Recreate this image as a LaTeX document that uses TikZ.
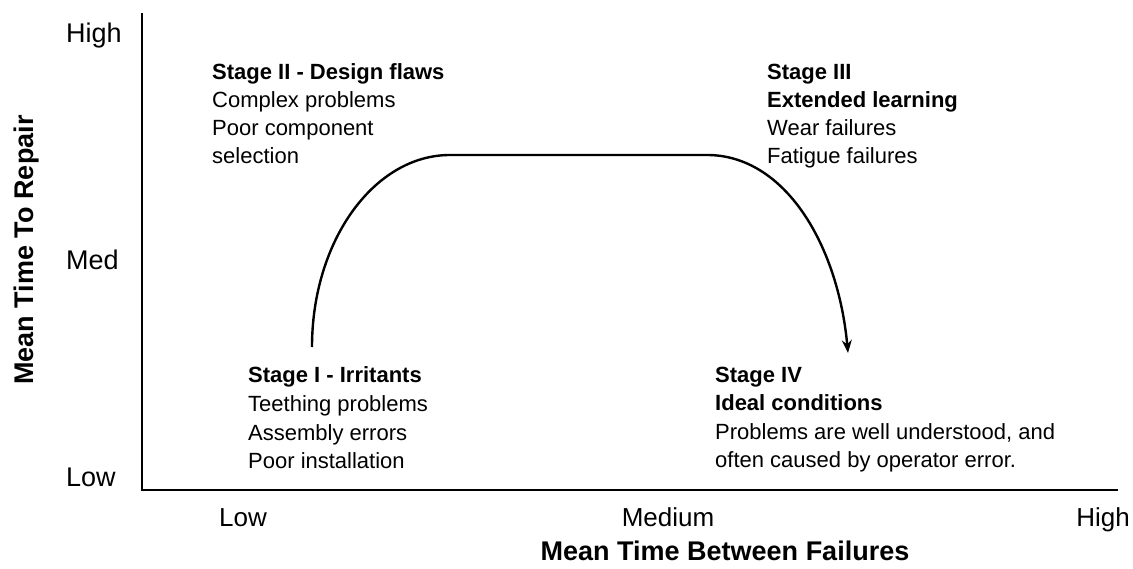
\documentclass[tikz,border=0pt]{standalone}
\usepackage{fontspec}
\setmainfont{Liberation Sans}
\usetikzlibrary{arrows.meta}
\begin{document}
\begin{tikzpicture}[x=1pt,y=-1pt,
  body/.style={font=\fontsize{22}{26}\selectfont, anchor=base west, inner sep=0pt},
  head/.style={font=\fontsize{22}{26}\selectfont\bfseries, anchor=base west, inner sep=0pt},
  axl/.style={font=\fontsize{26}{30}\selectfont, inner sep=0pt},
  yaxl/.style={font=\fontsize{27}{30}\selectfont, inner sep=0pt, anchor=base west},
  ttl/.style={font=\fontsize{27}{30}\selectfont\bfseries, inner sep=0pt},
  axisline/.style={line width=1.8pt, black},
  curveline/.style={line width=2.4pt, black, -{Stealth[length=13pt,width=10pt]}}]
\useasboundingbox (0,0) rectangle (1133,569);
% axes
\coordinate (ytop) at (142,13);
\coordinate (o) at (142,490);
\coordinate (xend) at (1118,490);
\draw[axisline] (ytop) -- (o) -- (xend);
% y labels
\node[yaxl] (yhigh) at (66,43) {High};
\node[yaxl] (ymed) at (66,270) {Med};
\node[yaxl] (ylow) at (66,486) {Low};
\node[ttl, rotate=90] (ytitle) at (27,250) {Mean Time To Repair};
% x labels
\node[axl, anchor=base] (xlow) at (243,526) {Low};
\node[axl, anchor=base] (xmed) at (668,526) {Medium};
\node[axl, anchor=base] (xhigh) at (1103,526) {High};
\node[ttl, anchor=base] (xtitle) at (725,560) {Mean Time Between Failures};
% Stage II
\node[head] (s2a) at (212,80) {Stage II - Design flaws};
\node[body] (s2b) at (212,108) {Complex problems};
\node[body] (s2c) at (212,136) {Poor component};
\node[body] (s2d) at (212,164) {selection};
% Stage III
\node[head] (s3a) at (767,80) {Stage III};
\node[head] (s3b) at (767,108) {Extended learning};
\node[body] (s3c) at (767,136) {Wear failures};
\node[body] (s3d) at (767,164) {Fatigue failures};
% Stage I
\node[head] (s1a) at (248,383) {Stage I - Irritants};
\node[body] (s1b) at (248,411) {Teething problems};
\node[body] (s1c) at (248,440) {Assembly errors};
\node[body] (s1d) at (248,468) {Poor installation};
% Stage IV
\node[head] (s4a) at (715,382) {Stage IV};
\node[head] (s4b) at (715,410) {Ideal conditions};
\node[body] (s4c) at (715,439) {Problems are well understood, and};
\node[body] (s4d) at (715,467) {often caused by operator error.};
% curve
\coordinate (cs) at (312,347);
\coordinate (ce) at (848,353);
\draw[curveline] (cs) .. controls (312,241) and (374,155) .. (450,155) -- (707,155) .. controls (785,155) and (838,245) .. (ce);
\end{tikzpicture}
\end{document}
